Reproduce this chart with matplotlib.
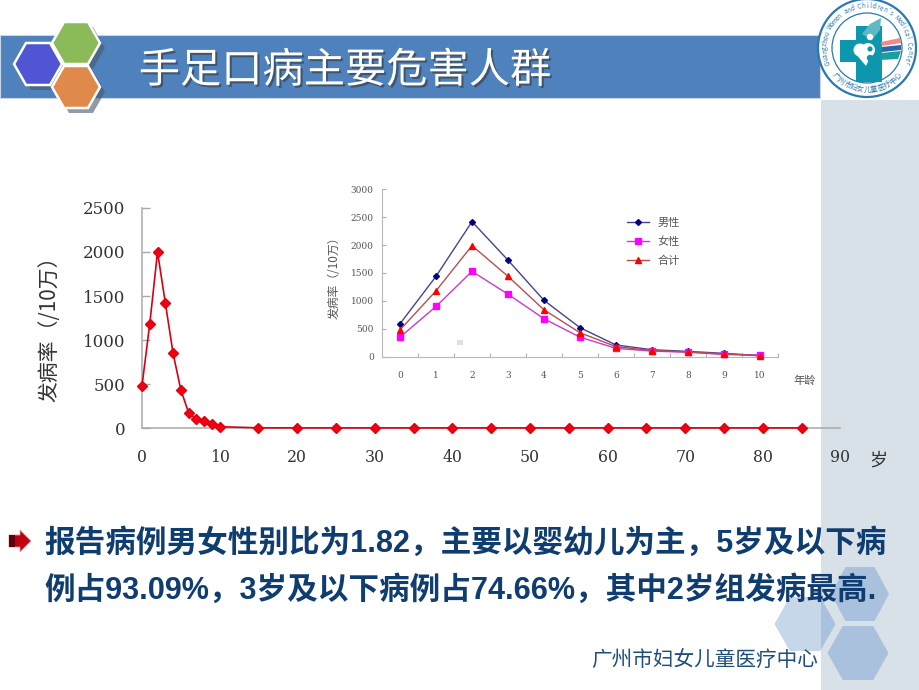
import numpy as np
import matplotlib
matplotlib.use('Agg')
import matplotlib.pyplot as plt
from matplotlib.patches import Polygon, Rectangle, Circle
import matplotlib.patheffects as pe

W, H = 920, 690
CJK = 'Noto Sans CJK SC'
SERIF = ['DejaVu Serif', CJK]
BOLD = ['Liberation Sans', CJK]

# ---- data ----
ages_all = [0, 1, 2, 3, 4, 5, 6, 7, 8, 9, 10, 15, 20, 25, 30, 35, 40, 45, 50, 55, 60, 65, 70, 75, 80, 85]
rate_all = [480, 1185, 2000, 1425, 850, 435, 175, 100, 85, 50, 15, 2, 1, 1, 1, 1, 1, 1, 1, 1, 1, 1, 1, 1, 1, 1]
main_yticks = [0, 500, 1000, 1500, 2000, 2500]
main_xticks = [0, 10, 20, 30, 40, 50, 60, 70, 80, 90]

ages_inset = [0, 1, 2, 3, 4, 5, 6, 7, 8, 9, 10]
male = [590, 1440, 2420, 1730, 1010, 520, 210, 125, 95, 60, 20]
female = [350, 900, 1530, 1120, 680, 350, 150, 100, 80, 40, 30]
total = [480, 1180, 1990, 1440, 840, 430, 180, 110, 85, 50, 15]
inset_yticks = [0, 500, 1000, 1500, 2000, 2500, 3000]

title = '手足口病主要危害人群'
line1 = '报告病例男女性别比为1.82，主要以婴幼儿为主，5岁及以下病'
line2 = '例占93.09%，3岁及以下病例占74.66%，其中2岁组发病最高.'
footer = '广州市妇女儿童医疗中心'
logo_en = "Guangzhou Women and Children's Medical Center"
logo_cn = '广州市妇女儿童医疗中心'

fig = plt.figure(figsize=(W / 100, H / 100), dpi=100, facecolor='white')

# ---- slide decoration in pixel coordinates ----
bg = fig.add_axes([0, 0, 1, 1], zorder=0)
bg.set_xlim(0, W)
bg.set_ylim(H, 0)
bg.axis('off')

bg.add_patch(Rectangle((821, 100), 99, 590, fc='#d8e0e8', ec='none', zorder=1))
bg.add_patch(Rectangle((0, 35), 820, 63, fc='#4f81bd', ec='#c8d6e8', lw=0.8, zorder=1))


def hexagon(cx, cy, r, h):
    return [(cx - r, cy), (cx - r / 2, cy - h), (cx + r / 2, cy - h),
            (cx + r, cy), (cx + r / 2, cy + h), (cx - r / 2, cy + h)]


# header hexagons
for cx, cy, col in [(38, 64, '#4f55d3'), (76, 43, '#8abb58'), (76, 87, '#df8a4a')]:
    bg.add_patch(Polygon(hexagon(cx + 5, cy + 5, 24, 21), fc='#46586a', ec='none', alpha=0.6, zorder=2))
for cx, cy, col in [(38, 64, '#4f55d3'), (76, 43, '#8abb58'), (76, 87, '#df8a4a')]:
    bg.add_patch(Polygon(hexagon(cx, cy, 24, 21), fc=col, ec='white', lw=1.8, zorder=3))

# title
bg.text(345, 71, title, family=CJK, fontsize=29.7, weight='light', color='white', ha='center', va='center',
        zorder=4, path_effects=[pe.withSimplePatchShadow(offset=(1.5, -1.5), shadow_rgbFace='#3b4a5a', alpha=0.8)])

# footer hexagons
bg.add_patch(Polygon(hexagon(860, 594, 29, 27), fc='#a9c1dc', ec='none', zorder=2))
bg.add_patch(Polygon(hexagon(858, 653, 30.5, 27), fc='#a9c1dc', ec='none', zorder=2))
bg.add_patch(Polygon(hexagon(805, 624, 30.5, 27), fc='#c7d7ea', ec='none', zorder=2))
p = Polygon(hexagon(805, 624, 30.5, 27), fc='#a9c1dc', ec='none', zorder=2.1)
bg.add_patch(p)
p.set_clip_path(Rectangle((821, 560), 60, 120, transform=bg.transData))

# bullet arrow
bg.add_patch(Polygon([(9, 535), (20, 535), (20, 530), (31, 541), (20, 552), (20, 547), (9, 547)],
                     fc='#c00010', ec='#d8a0a0', lw=0.6, zorder=3))
bg.add_patch(Rectangle((9, 535), 6, 12, fc='#600008', ec='none', zorder=3.1))

# body text
for txt, y in [(line1, 544), (line2, 591)]:
    bg.text(44, y, txt, family=BOLD, weight='bold', fontsize=22.05, color='#0f3d70',
            ha='left', va='center', zorder=5)
bg.text(818, 661, footer, family=CJK, fontsize=14.85, color='#1f4e79', ha='right', va='center', zorder=5)

# logo
lx, ly = 867, 48
bg.add_patch(Circle((lx, ly), 49, fc='white', ec='#2a78ad', lw=1.6, zorder=6))
bg.add_patch(Circle((lx, ly), 35, fc='white', ec='#2a78ad', lw=0.9, zorder=6))
teal = '#0d97ae'
bg.add_patch(Rectangle((856, 26), 26, 56, fc=teal, ec='none', zorder=7))
bg.add_patch(Rectangle((840, 40), 40, 22, fc=teal, ec='none', zorder=7))
bg.add_patch(Polygon([(862, 34), (870, 24), (881, 18), (880, 30), (872, 40)], fc='#5fb9c4', ec='none', zorder=7))
bg.add_patch(Circle((860, 50), 6.5, fc='white', ec='none', zorder=8))
bg.add_patch(Circle((868, 50), 7, fc='white', ec='none', zorder=8))
bg.add_patch(Polygon([(855, 53), (872, 53), (866, 66)], fc='white', ec='none', zorder=8))
for cy_, r_ in [(37, 3.2), (49, 2.6), (58, 3.2)]:
    bg.add_patch(Circle((870, cy_), r_, fc=teal if cy_ != 37 else 'white', ec='none', zorder=9))
bg.add_patch(Polygon([(881, 42), (900, 38), (901, 43), (882, 46)], fc='#ef8a8a', ec='none', zorder=7))
bg.add_patch(Polygon([(882, 47), (901, 45), (901, 50), (882, 52)], fc='#2767a8', ec='none', zorder=7))
bg.add_patch(Polygon([(881, 53), (901, 51), (898, 59), (880, 60)], fc='#18a0a0', ec='none', zorder=7))


def arc_text(text, r, a0, a1, size, top=True):
    angs = np.linspace(a0, a1, len(text))
    for ch, a in zip(text, angs):
        x = lx + r * np.cos(np.radians(a))
        y = ly - r * np.sin(np.radians(a))
        rot = a - 90 if top else a + 90
        bg.text(x, y, ch, family=[CJK], fontsize=size, color='#2a78ad', rotation=rot,
                ha='center', va='center', zorder=9)


arc_text(logo_en, 42, 200, -20, 4.6)
arc_text(logo_cn, 42, 222, 318, 5.2, top=False)

# ---- main chart ----
x0, x90, y0, y2500 = 142, 840.4, 428, 208
ax = fig.add_axes([x0 / W, 1 - y0 / H, (x90 - x0) / W, (y0 - y2500) / H], zorder=2)
ax.patch.set_alpha(0)
ax.plot(ages_all, rate_all, color='#d80010', lw=1.2, marker='D', ms=4.8, mfc='#f00010', mec='#e00010',
        clip_on=False, zorder=5)
ax.set_xlim(0, 90)
ax.set_ylim(0, 2500)
ax.set_xticks(main_xticks)
ax.set_yticks(main_yticks)
ax.set_xticklabels([str(v) for v in main_xticks], family=SERIF, fontsize=11.3, color='#333333')
ax.set_yticklabels([str(v) for v in main_yticks], family=SERIF, fontsize=12, color='#333333')
ax.tick_params(axis='x', length=0, pad=15)
ax.tick_params(axis='y', length=6, direction='in', color='#a8a8a8', width=1, pad=12)
for s in ['top', 'right']:
    ax.spines[s].set_visible(False)
for s in ['left', 'bottom']:
    ax.spines[s].set_color('#a8a8a8')
    ax.spines[s].set_linewidth(1.1)
bg.text(49, 324, '发病率（/10万）', family=CJK, fontsize=15, color='#333333', rotation=90, ha='center', va='center', zorder=5)
bg.text(878, 461, '岁', family=CJK, fontsize=13, color='#333333', ha='center', va='center', zorder=5)

# ---- inset chart ----
ix0, ix1, iy0, iy1 = 382, 778, 356.7, 189.3
ins = fig.add_axes([ix0 / W, 1 - iy0 / H, (ix1 - ix0) / W, (iy0 - iy1) / H], zorder=3)
ins.patch.set_alpha(0)
series = [('男性', male, '#44448c', 'D', '#000080', 3.0),
          ('女性', female, '#c83cc8', 's', '#ff00ff', 3.8),
          ('合计', total, '#b45050', '^', '#ff0000', 5.0)]
for name, vals, lc, mk, mc, ms in series:
    ins.plot(ages_inset, vals, color=lc, lw=1.0, marker=mk, ms=ms, mfc=mc, mec=mc, clip_on=False, label=name,
             zorder=5)
ins.set_xlim(-0.5, 10.5)
ins.set_ylim(0, 3000)
ins.set_xticks(ages_inset)
ins.set_xticks(np.arange(-0.5, 11, 1), minor=True)
ins.set_yticks(inset_yticks)
ins.set_xticklabels([str(v) for v in ages_inset], family=SERIF, fontsize=6.5, color='#555555')
ins.set_yticklabels([str(v) for v in inset_yticks], family=SERIF, fontsize=6.5, color='#555555')
ins.tick_params(axis='x', which='major', length=0, pad=10)
ins.tick_params(axis='x', which='minor', length=3, direction='in', color='#b0b0b0', width=0.8)
ins.tick_params(axis='y', length=3, direction='in', color='#b0b0b0', width=0.8, pad=6)
for s in ['top', 'right']:
    ins.spines[s].set_visible(False)
for s in ['left', 'bottom']:
    ins.spines[s].set_color('#b8b8b8')
    ins.spines[s].set_linewidth(0.8)
leg = ins.legend(loc='upper left', bbox_to_anchor=(0.618, 0.83), frameon=False, prop={'family': CJK, 'size': 8},
                 labelcolor='#555555', handlelength=2.0, labelspacing=0.76, handletextpad=0.8, borderpad=0,
                 borderaxespad=0)
bg.text(334, 275, '发病率（/10万）', family=CJK, fontsize=8.5, color='#555555', rotation=90, ha='center', va='center', zorder=5)
bg.text(805, 381, '年龄', family=CJK, fontsize=8, color='#555555', ha='center', va='center', zorder=5)
bg.add_patch(Rectangle((457.5, 339.5), 5.5, 5.5, fc='#e0e0e0', ec='none', zorder=5))

fig.savefig('out.png', dpi=100)
